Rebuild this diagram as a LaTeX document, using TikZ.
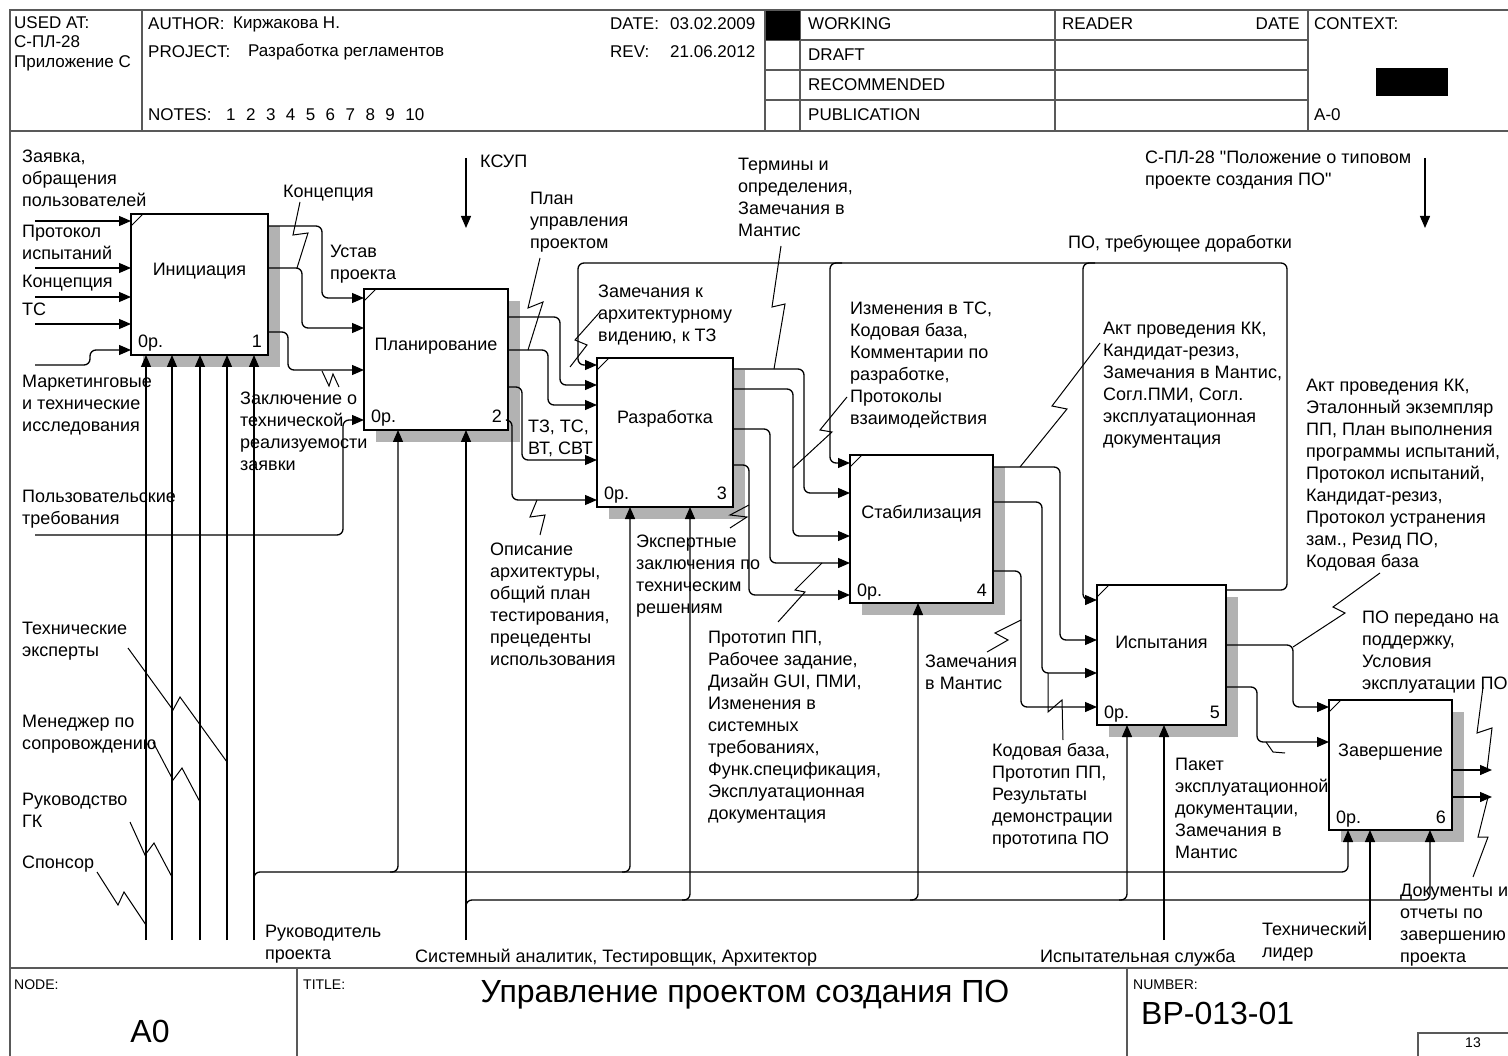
\documentclass[tikz,border=0pt]{standalone}
\usepackage{fontspec}
\setmainfont{Liberation Sans}[Ligatures=TeXOff]
\usetikzlibrary{arrows.meta, positioning, calc, shadows}

\newcommand{\dgfont}{\fontsize{18}{22}\selectfont}
\newcommand{\hdfont}{\fontsize{17}{19.5}\selectfont}
\newcommand{\bigfont}{\fontsize{32}{36}\selectfont}
\newcommand{\smfont}{\fontsize{14}{16}\selectfont}

\tikzset{
  act/.style={draw, line width=2.4pt, fill=white, inner sep=0pt, outer sep=0pt,
    drop shadow={shadow xshift=12pt, shadow yshift=-12pt, opacity=1, fill=black!30}},
  flow/.style={-{Triangle[length=12pt, width=10pt]}, line width=1.3pt, rounded corners=6pt},
  squig/.style={line width=1pt},
  txt/.style={anchor=north west, align=left, inner sep=0pt},
  hd/.style={anchor=west, inner sep=0pt, font=\hdfont},
  frame/.style={line width=2pt, black!65},
}

\begin{document}
\begin{tikzpicture}[x=1pt, y=-1pt, font=\dgfont]
\useasboundingbox (0,0) rectangle (1508,1056);

% Frame and header
\draw[frame] (10,10) rectangle (1520,1070);
\draw[frame] (10,131) -- (1520,131);
\draw[frame] (10,968) -- (1520,968);
\foreach \x in {142,765,800,1055,1308}
  \draw[frame] (\x,10) -- (\x,131);
\foreach \y in {40,70,100}
  \draw[frame] (765,\y) -- (1308,\y);
\fill (766,11) rectangle (800,40);
\fill (1376,68) rectangle (1448,96);

\node[txt, font=\hdfont] (used) at (14,16) {USED AT:\\С-ПЛ-28\\Приложение С};
\node[hd] (auth) at (148,24) {AUTHOR:};
\node[hd] (authv) at (233,24) {Киржакова Н.};
\node[hd] (proj) at (148,52) {PROJECT:};
\node[hd] (projv) at (248,52) {Разработка регламентов};
\node[hd] (notes) at (148,115) {NOTES:};
\foreach \n [count=\i from 0] in {1,...,10}
  \node[hd] (note\n) at ({226+19.9*\i},115) {\n};
\node[hd] (date) at (610,24) {DATE:};
\node[hd] (datev) at (670,24) {03.02.2009};
\node[hd] (rev) at (610,52) {REV:};
\node[hd] (revv) at (670,52) {21.06.2012};
\node[hd] (work) at (808,24) {WORKING};
\node[hd] (draft) at (808,55) {DRAFT};
\node[hd] (recom) at (808,85) {RECOMMENDED};
\node[hd] (publ) at (808,115) {PUBLICATION};
\node[hd] (reader) at (1062,24) {READER};
\node[hd, anchor=east] (rdate) at (1300,24) {DATE};
\node[hd] (ctx) at (1314,24) {CONTEXT:};
\node[hd] (ctxa) at (1314,115) {A-0};

% Footer
\foreach \x in {297,1127}
  \draw[frame] (\x,968) -- (\x,1070);
\draw[frame] (1418,1033) rectangle (1520,1070);
\node[hd, font=\smfont] (nodel) at (14,985) {NODE:};
\node[hd, font=\smfont] (titlel) at (303,985) {TITLE:};
\node[hd, font=\smfont] (numl) at (1133,985) {NUMBER:};
\node[font=\bigfont, inner sep=0pt] (nodev) at (150,1031) {A0};
\node[font=\bigfont, inner sep=0pt] (titlev) at (745,995) {Управление проектом создания ПО};
\node[hd, font=\bigfont] (numv) at (1141,1013) {BP-013-01};
\node[font=\smfont, inner sep=0pt] (page) at (1473,1043) {13};

% Activities
\node[act, minimum width=137pt, minimum height=141pt] (ini) at (199.5,284.5) {};
\node[act, minimum width=144pt, minimum height=141pt] (pl) at (436,359.5) {};
\node[act, minimum width=136pt, minimum height=149pt] (raz) at (665,432.5) {};
\node[act, minimum width=143pt, minimum height=148pt] (stab) at (921.5,529) {};
\node[act, minimum width=129pt, minimum height=140pt] (isp) at (1161.5,655) {};
\node[act, minimum width=123pt, minimum height=130pt] (zav) at (1390.5,765) {};

\node (tini) at ($(ini.center)+(0,-13)$) {Инициация};
\node (tpl) at ($(pl.center)+(0,-13)$) {Планирование};
\node (traz) at ($(raz.center)+(0,-14)$) {Разработка};
\node (tstab) at ($(stab.center)+(0,-15)$) {Стабилизация};
\node (tisp) at ($(isp.center)+(0,-13)$) {Испытания};
\node (tzav) at ($(zav.center)+(0,-13)$) {Завершение};

\foreach \b/\n in {ini/1,pl/2,raz/3,stab/4,isp/5,zav/6} {
  \draw[line width=1pt] ($(\b.north west)+(0,12)$) -- ($(\b.north west)+(12,0)$);
  \node[anchor=base west, inner sep=0pt] (z\b) at ($(\b.south west)+(7,-7)$) {0р.};
  \node[anchor=base east, inner sep=0pt] (n\b) at ($(\b.south east)+(-6,-7)$) {\n};
}

% Inputs of the first activity
\coordinate (i1) at (35,221);
\coordinate (i2) at (35,268);
\coordinate (i3) at (35,297);
\coordinate (i4) at (35,324);
\coordinate (i5) at (35,365);
\coordinate (ut) at (35,535);
\foreach \i in {i1,i2,i3,i4}
  \draw[flow] (\i) -- (\i -| ini.west);
\draw[flow] (i5) -- ++(55,0) -- ++(0,-15) -- ($(ini.south west)+(0,-5)$);

% Initiation to planning
\draw[flow] ($(ini.north east)+(0,12)$) -| ($(pl.north west)+(-42,9)$) -- ($(pl.north west)+(0,9)$);
\draw[flow] ($(ini.north east)+(0,54)$) -| ($(pl.north west)+(-62,39)$) -- ($(pl.north west)+(0,39)$);
\draw[flow] ($(ini.north east)+(0,118)$) -| ($(pl.north west)+(-76,81)$) -- ($(pl.north west)+(0,81)$);
\draw[flow] (ut) -| ($(pl.north west)+(-21,131)$) -- ($(pl.north west)+(0,131)$);

% Planning to development
\draw[flow] ($(pl.north east)+(0,28)$) -| ($(raz.north west)+(-37,27)$) -- ($(raz.north west)+(0,27)$);
\draw[flow] ($(pl.north east)+(0,61)$) -| ($(raz.north west)+(-49,47)$) -- ($(raz.north west)+(0,47)$);
\draw[flow] ($(pl.north east)+(0,98)$) -| ($(raz.north west)+(-75,102)$) -- ($(raz.north west)+(0,102)$);
\draw[flow] ($(pl.north east)+(0,131)$) -| ($(raz.north west)+(-85,142)$) -- ($(raz.north west)+(0,142)$);

% Development to stabilisation
\draw[flow] ($(raz.north east)+(0,11)$) -| ($(stab.north west)+(-46,38)$) -- ($(stab.north west)+(0,38)$);
\draw[flow] ($(raz.north east)+(0,31)$) -| ($(stab.north west)+(-57,81)$) -- ($(stab.north west)+(0,81)$);
\draw[flow] ($(raz.north east)+(0,71)$) -| ($(stab.north west)+(-80,108)$) -- ($(stab.north west)+(0,108)$);
\draw[flow] ($(raz.north east)+(0,107)$) -| ($(stab.north west)+(-101,140)$) -- ($(stab.north west)+(0,140)$);

% Stabilisation to tests
\draw[flow] ($(stab.north east)+(0,12)$) -| ($(isp.north west)+(-37,55)$) -- ($(isp.north west)+(0,55)$);
\draw[flow] ($(stab.north east)+(0,47)$) -| ($(isp.north west)+(-55,88)$) -- ($(isp.north west)+(0,88)$);
\draw[flow] ($(stab.north east)+(0,116)$) -| ($(isp.north west)+(-76,122)$) -- ($(isp.north west)+(0,122)$);

% Tests to completion
\draw[flow] ($(isp.north east)+(0,60)$) -| ($(zav.north west)+(-36,7)$) -- ($(zav.north west)+(0,7)$);
\draw[flow] ($(isp.north east)+(0,102)$) -| ($(zav.north west)+(-72,42)$) -- ($(zav.north west)+(0,42)$);

% Feedback loop
\draw[flow] ($(isp.north east)+(0,5)$) -| ($(isp.north east)+(61,-322)$) -- ($(raz.north west)+(-19,-95)$) |- ($(raz.north west)+(0,7)$);
\draw[flow] ($(stab.north west)+(-8,-192)$) -| ($(stab.north west)+(-20,8)$) -- ($(stab.north west)+(0,8)$);
\draw[flow] ($(isp.north west)+(-2,-322)$) -| ($(isp.north west)+(-14,15)$) -- ($(isp.north west)+(0,15)$);

% Outputs of completion
\coordinate (o1) at (1492,770);
\coordinate (o2) at (1492,797);
\draw[flow] (o1 -| zav.east) -- (o1);
\draw[flow] (o2 -| zav.east) -- (o2);

% Controls
\coordinate (ksup) at (466,158);
\coordinate (spl) at (1425,158);
\draw[flow] (ksup) -- ++(0,70);
\draw[flow] (spl) -- ++(0,70);

% Mechanisms
\coordinate (m1) at (146,940);
\coordinate (m2) at (172,940);
\coordinate (m3) at (200,940);
\coordinate (m4) at (227,940);
\coordinate (rp) at (254,940);
\coordinate (sa) at (466,940);
\coordinate (ts) at (1164,940);
\coordinate (tl) at (1370,940);
\foreach \m in {m1,m2,m3,m4,rp}
  \draw[flow] (\m) -- (\m |- ini.south);
\draw[flow] (sa) -- (sa |- pl.south);
\draw[flow] (ts) -- (ts |- isp.south);
\draw[flow] (tl) -- (tl |- zav.south);

\coordinate (bus1) at (254,872);
\coordinate (bus2) at (466,900);
\coordinate (plm) at ($(pl.south west)+(34,0)$);
\coordinate (razm1) at ($(raz.south west)+(33,0)$);
\coordinate (razm2) at ($(raz.south west)+(93,0)$);
\coordinate (stabm) at ($(stab.south west)+(68,0)$);
\coordinate (ispm) at ($(isp.south west)+(30,0)$);
\coordinate (zavm1) at ($(zav.south west)+(19,0)$);
\coordinate (zavm3) at ($(zav.south west)+(101,0)$);
\draw[flow] ($(bus1)+(0,14)$) |- (bus1 -| plm) -- (plm);
\draw[flow] ($(bus1 -| plm)+(-8,0)$) -| (razm1);
\draw[flow] ($(bus1 -| razm1)+(-8,0)$) -| (zavm1);
\draw[flow] ($(bus2)+(0,12)$) |- (bus2 -| razm2) -- (razm2);
\draw[flow] ($(bus2 -| razm2)+(-8,0)$) -| (stabm);
\draw[flow] ($(bus2 -| stabm)+(-8,0)$) -| (ispm);
\draw[flow] ($(bus2 -| ispm)+(-8,0)$) -| (zavm3);

% Squiggles
\draw[squig] (128,648) -- (173,710) -- (180,697) -- (227,762);
\draw[squig] (153,742) -- (173,780) -- (182,768) -- (200,802);
\draw[squig] (130,822) -- (145,855) -- (154,843) -- (172,877);
\draw[squig] (97,872) -- (118,905) -- (124,892) -- (146,925);
\draw[squig] (300,202) -- (293,235) -- (308,233) -- (297,268);
\draw[squig] (322,371) -- (329,386) -- (333,374) -- (339,387);
\draw[squig] (540,258) -- (528,308) -- (543,302) -- (528,350);
\draw[squig] (600,312) -- (575,340) -- (587,345) -- (570,367);
\draw[squig] (537,500) -- (530,517) -- (545,515) -- (540,535);
\draw[squig] (749,505) -- (730,515) -- (747,517) -- (730,528);
\draw[squig] (781,246) -- (772,307) -- (785,304) -- (774,369);
\draw[squig] (847,397) -- (820,430) -- (832,432) -- (793,468);
\draw[squig] (822,563) -- (795,590) -- (805,592) -- (778,622);
\draw[squig] (1100,343) -- (1052,406) -- (1067,409) -- (1020,467);
\draw[squig] (1021,620) -- (995,633) -- (1008,640) -- (987,652);
\draw[squig] (1048,673) -- (1048,712) -- (1062,700) -- (1063,740);
\draw[squig] (1380,573) -- (1333,607) -- (1345,613) -- (1293,647);
\draw[squig] (1266,742) -- (1273,752) -- (1285,753);
\draw[squig] (1483,687) -- (1477,733) -- (1492,728) -- (1487,770);
\draw[squig] (1488,797) -- (1478,837) -- (1488,837) -- (1473,877);

% Labels
\node[txt] (lzay) at (22,150) {Заявка,\\обращения\\пользователей};
\node[txt] (lprot) at (22,225) {Протокол\\испытаний};
\node[txt] (lkon) at (22,275) {Концепция};
\node[txt] (lts) at (22,303) {ТС};
\node[txt] (lmark) at (22,375) {Маркетинговые\\и технические\\исследования};
\node[txt] (lpolz) at (22,490) {Пользовательские\\требования};
\node[txt] (ltexp) at (22,622) {Технические\\эксперты};
\node[txt] (lmen) at (22,715) {Менеджер по\\сопровождению};
\node[txt] (lruk) at (22,793) {Руководство\\ГК};
\node[txt] (lspon) at (22,856) {Спонсор};
\node[txt] (lkon2) at (283,185) {Концепция};
\node[txt] (lust) at (330,245) {Устав\\проекта};
\node[txt] (lzakl) at (240,392) {Заключение о\\технической\\реализуемости\\заявки};
\node[txt] (lksup) at (480,155) {КСУП};
\node[txt] (lplan) at (530,192) {План\\управления\\проектом};
\node[txt] (lzam) at (598,285) {Замечания к\\архитектурному\\видению, к ТЗ};
\node[txt] (ltz) at (528,420) {ТЗ, ТС,\\ВТ, СВТ};
\node[txt] (lopis) at (490,543) {Описание\\архитектуры,\\общий план\\тестирования,\\прецеденты\\использования};
\node[txt] (lexp) at (636,535) {Экспертные\\заключения по\\техническим\\решениям};
\node[txt] (lterm) at (738,158) {Термины и\\определения,\\Замечания в\\Мантис};
\node[txt] (lizm) at (850,302) {Изменения в ТС,\\Кодовая база,\\Комментарии по\\разработке,\\Протоколы\\взаимодействия};
\node[txt] (lproto) at (708,631) {Прототип ПП,\\Рабочее задание,\\Дизайн GUI, ПМИ,\\Изменения в\\системных\\требованиях,\\Функ.спецификация,\\Эксплуатационная\\документация};
\node[txt] (lzamm) at (925,655) {Замечания\\в Мантис};
\node[txt] (lpotr) at (1068,235) {ПО, требующее доработки};
\node[txt] (lspl) at (1145,151) {С-ПЛ-28 "Положение о типовом\\проекте создания ПО"};
\node[txt] (lakt1) at (1103,322) {Акт проведения КК,\\Кандидат-резиз,\\Замечания в Мантис,\\Согл.ПМИ, Согл.\\эксплуатационная\\документация};
\node[txt] (lakt2) at (1306,379) {Акт проведения КК,\\Эталонный экземпляр\\ПП, План выполнения\\программы испытаний,\\Протокол испытаний,\\Кандидат-резиз,\\Протокол устранения\\зам., Резид ПО,\\Кодовая база};
\node[txt] (lkod) at (992,743) {Кодовая база,\\Прототип ПП,\\Результаты\\демонстрации\\прототипа ПО};
\node[txt] (lpak) at (1175,758) {Пакет\\эксплуатационной\\документации,\\Замечания в\\Мантис};
\node[txt] (lpoper) at (1362,611) {ПО передано на\\поддержку,\\Условия\\эксплуатации ПО};
\node[txt] (ldoc) at (1400,884) {Документы и\\отчеты по\\завершению\\проекта};
\node[txt] (ltl) at (1262,922) {Технический\\лидер};
\node[txt] (lrp) at (265,925) {Руководитель\\проекта};
\node[txt] (lsa) at (415,949) {Системный аналитик, Тестировщик, Архитектор};
\node[txt] (lis) at (1040,949) {Испытательная служба};
\end{tikzpicture}
\end{document}
